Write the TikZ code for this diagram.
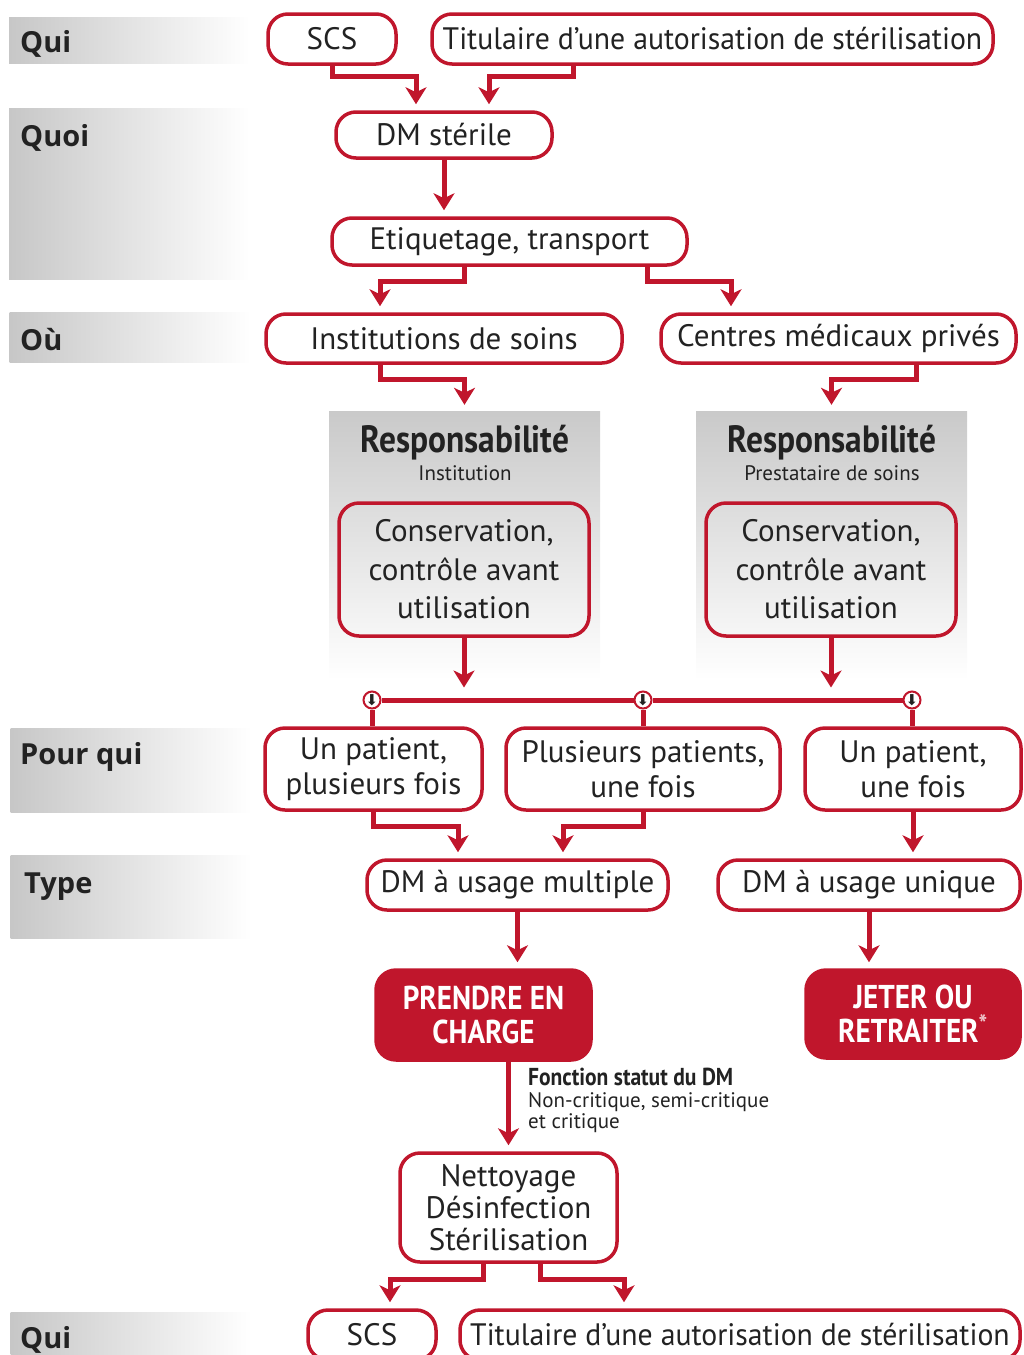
\documentclass[tikz,border=0pt]{standalone}
\usepackage{fontspec}
\setmainfont{PT Sans}
\newfontfamily\narrowfont{PT Sans}[FakeStretch=0.96]
\newfontfamily\condbf{PT Sans}[FakeStretch=0.88]
\newfontfamily\bandfont{Open Sans}
\newfontfamily\symfont{DejaVu Sans}
\usetikzlibrary{arrows.meta,positioning}
\definecolor{dmred}{RGB}{192,22,44}
\definecolor{ink}{RGB}{34,34,34}
\newcommand\knotarrow{\smash{\makebox[0pt]{\raisebox{-5pt}{⬇}}}}

\tikzset{
  box/.style={draw=dmred, line width=3.5pt, rounded corners=20pt, inner sep=0pt, align=center, text=ink, font=\fontsize{31}{35}\selectfont},
  redbox/.style={box, fill=dmred, text=white, font=\condbf\bfseries\fontsize{33}{34}\selectfont},
  band/.style={inner sep=0pt, minimum width=241pt, left color=black!22, right color=white},
  bandlabel/.style={anchor=base west, inner sep=0pt, text=ink, font=\bandfont\bfseries\fontsize{29}{32}\selectfont},
  panel/.style={inner sep=0pt, minimum width=271pt, minimum height=269pt, top color=black!21, bottom color=white},
  resptitle/.style={anchor=base, inner sep=0pt, text=ink, font=\condbf\bfseries\fontsize{38}{40}\selectfont},
  respsub/.style={anchor=base, inner sep=0pt, text=ink, font=\fontsize{21}{24}\selectfont},
  arr/.style={draw=dmred, line width=5pt, -{Stealth[length=17pt,width=21pt,inset=5pt]}, shorten >=6pt},
  link/.style={draw=dmred, line width=5pt},
  knot/.style={circle, draw=dmred, line width=2pt, fill=white, minimum size=17pt, inner sep=0pt, text=ink, font=\symfont\fontsize{15}{15}\selectfont}
}

\begin{document}
\begin{tikzpicture}[x=1pt,y=-1pt]
\useasboundingbox (0,0) rectangle (1023,1355);

% bands on the left
\node[band, minimum height=46pt] (bqui) at (129.5,40) {};
\node[band, minimum height=171pt] (bquoi) at (129.5,193.5) {};
\node[band, minimum height=50pt] (bou) at (130,337) {};
\node[band, minimum height=84pt] (bpour) at (131,770) {};
\node[band, minimum height=83pt] (btype) at (131,896.5) {};
\node[band, minimum height=50pt] (bqui2) at (131,1337) {};
\node[bandlabel] (lqui) at (20,52) {Qui};
\node[bandlabel] (lquoi) at (20,146) {Quoi};
\node[bandlabel] (lou) at (20,350) {Où};
\node[bandlabel] (lpour) at (20,764) {Pour qui};
\node[bandlabel] (ltype) at (24,893) {Type};
\node[bandlabel] (lqui2) at (20,1348) {Qui};

% responsibility panels
\node[panel] (panel1) at (464.5,545.5) {};
\node[panel] (panel2) at (831.5,545.5) {};
\node[resptitle] (resp1) at (465,452) {Responsabilité};
\node[respsub] (sub1) at (465,480) {Institution};
\node[resptitle] (resp2) at (832,452) {Responsabilité};
\node[respsub] (sub2) at (832,480) {Prestataire de soins};

% boxes
\node[box, minimum width=128pt, minimum height=50pt] (scs1) at (332,39) {SCS};
\node[box, minimum width=561pt, minimum height=50pt, font=\narrowfont\fontsize{31}{35}\selectfont] (tit1) at (712.5,39) {Titulaire d’une autorisation de stérilisation};
\node[box, minimum width=216pt, minimum height=46pt] (dm) at (444,135) {DM stérile};
\node[box, minimum width=355pt, minimum height=47pt] (etiq) at (509.5,241.5) {Etiquetage, transport};
\node[box, minimum width=356pt, minimum height=49pt] (inst) at (444,338.5) {Institutions de soins};
\node[box, minimum width=355pt, minimum height=49pt] (cent) at (838.5,338.5) {Centres médicaux privés};
\node[box, minimum width=250pt, minimum height=133pt, font=\fontsize{31}{38.5}\selectfont] (cons1) at (464,569.5) {Conservation,\\contrôle avant\\utilisation};
\node[box, minimum width=250pt, minimum height=133pt, font=\fontsize{31}{38.5}\selectfont] (cons2) at (831,569.5) {Conservation,\\contrôle avant\\utilisation};

\node[knot] (knot1) at (372,700) {\knotarrow};
\node[knot] (knot2) at (643,700) {\knotarrow};
\node[knot] (knot3) at (912,700) {\knotarrow};

\node[box, minimum width=217pt, minimum height=82pt] (p1) at (373.5,769) {Un patient,\\plusieurs fois};
\node[box, minimum width=274pt, minimum height=82pt] (p2) at (643,769) {Plusieurs patients,\\une fois};
\node[box, minimum width=216pt, minimum height=82pt] (p3) at (913,769) {Un patient,\\une fois};
\node[box, minimum width=301pt, minimum height=50pt] (multi) at (517.5,885) {DM à usage multiple};
\node[box, minimum width=302pt, minimum height=50pt] (uniq) at (869,885) {DM à usage unique};
\node[redbox, minimum width=215pt, minimum height=90pt] (prendre) at (483.5,1015) {PRENDRE EN\\CHARGE};
\node[redbox, minimum width=214pt, minimum height=88pt] (jeter) at (913,1014) {JETER OU\\RETRAITER\textsuperscript{\color{white!75!dmred}\fontsize{26}{26}\selectfont*}};
\node[anchor=north west, align=left, inner sep=0pt, text=ink, font=\fontsize{21}{21.5}\selectfont] (status) at (528,1068)
  {{\condbf\bfseries\fontsize{24.5}{21.5}\selectfont Fonction statut du DM}\\Non-critique, semi-critique\\et critique};
\node[box, minimum width=217pt, minimum height=109pt, font=\fontsize{31}{32}\selectfont] (nett) at (508.5,1207.5) {Nettoyage\\Désinfection\\Stérilisation};
\node[box, minimum width=128pt, minimum height=50pt] (scs2) at (372,1335) {SCS};
\node[box, minimum width=560pt, minimum height=50pt, font=\narrowfont\fontsize{31}{35}\selectfont] (tit2) at (740,1335) {Titulaire d’une autorisation de stérilisation};

% connectors
\draw[arr] (scs1.south) -- ++(0,11) -| ([xshift=-28pt]dm.north);
\draw[arr] ([xshift=-139.5pt]tit1.south) -- ++(0,11) -| ([xshift=45pt]dm.north);
\draw[arr] (dm.south) -- (dm.south |- etiq.north);
\draw[arr] ([xshift=-45.5pt]etiq.south) -- ++(0,15) -| ([xshift=-64pt]inst.north);
\draw[arr] ([xshift=137.5pt]etiq.south) -- ++(0,15) -| ([xshift=-107.5pt]cent.north);
\draw[arr] ([xshift=-64pt]inst.south) -- ++(0,15) -| (panel1.north);
\draw[arr] ([xshift=77.5pt]cent.south) -- ++(0,15) -| (panel2.north);
\draw[arr, shorten >=3pt] (cons1.south) -- (cons1.south |- knot2.north);
\draw[arr, shorten >=3pt] (cons2.south) -- (cons2.south |- knot2.north);
\draw[link] (knot1) -- (knot2) -- (knot3);
\draw[link] (knot1.south) -- (knot1.south |- p1.north);
\draw[link] (knot2.south) -- (knot2.south |- p2.north);
\draw[link] (knot3.south) -- (knot3.south |- p3.north);
\draw[arr] (p1.south) -- ++(0,15) -| ([xshift=-59.5pt]multi.north);
\draw[arr] (p2.south) -- ++(0,15) -| ([xshift=45.5pt]multi.north);
\draw[arr] (p3.south) -- (p3.south |- uniq.north);
\draw[arr] (multi.south) -- (multi.south |- prendre.north);
\draw[arr] (uniq.south) -- (uniq.south |- jeter.north);
\draw[arr] ([xshift=25pt]prendre.south) -- (nett.north);
\draw[arr] ([xshift=-25.5pt]nett.south) -- ++(0,16) -| ([xshift=18pt]scs2.north);
\draw[arr] ([xshift=31.5pt]nett.south) -- ++(0,16) -| ([xshift=-116pt]tit2.north);
\end{tikzpicture}
\end{document}
